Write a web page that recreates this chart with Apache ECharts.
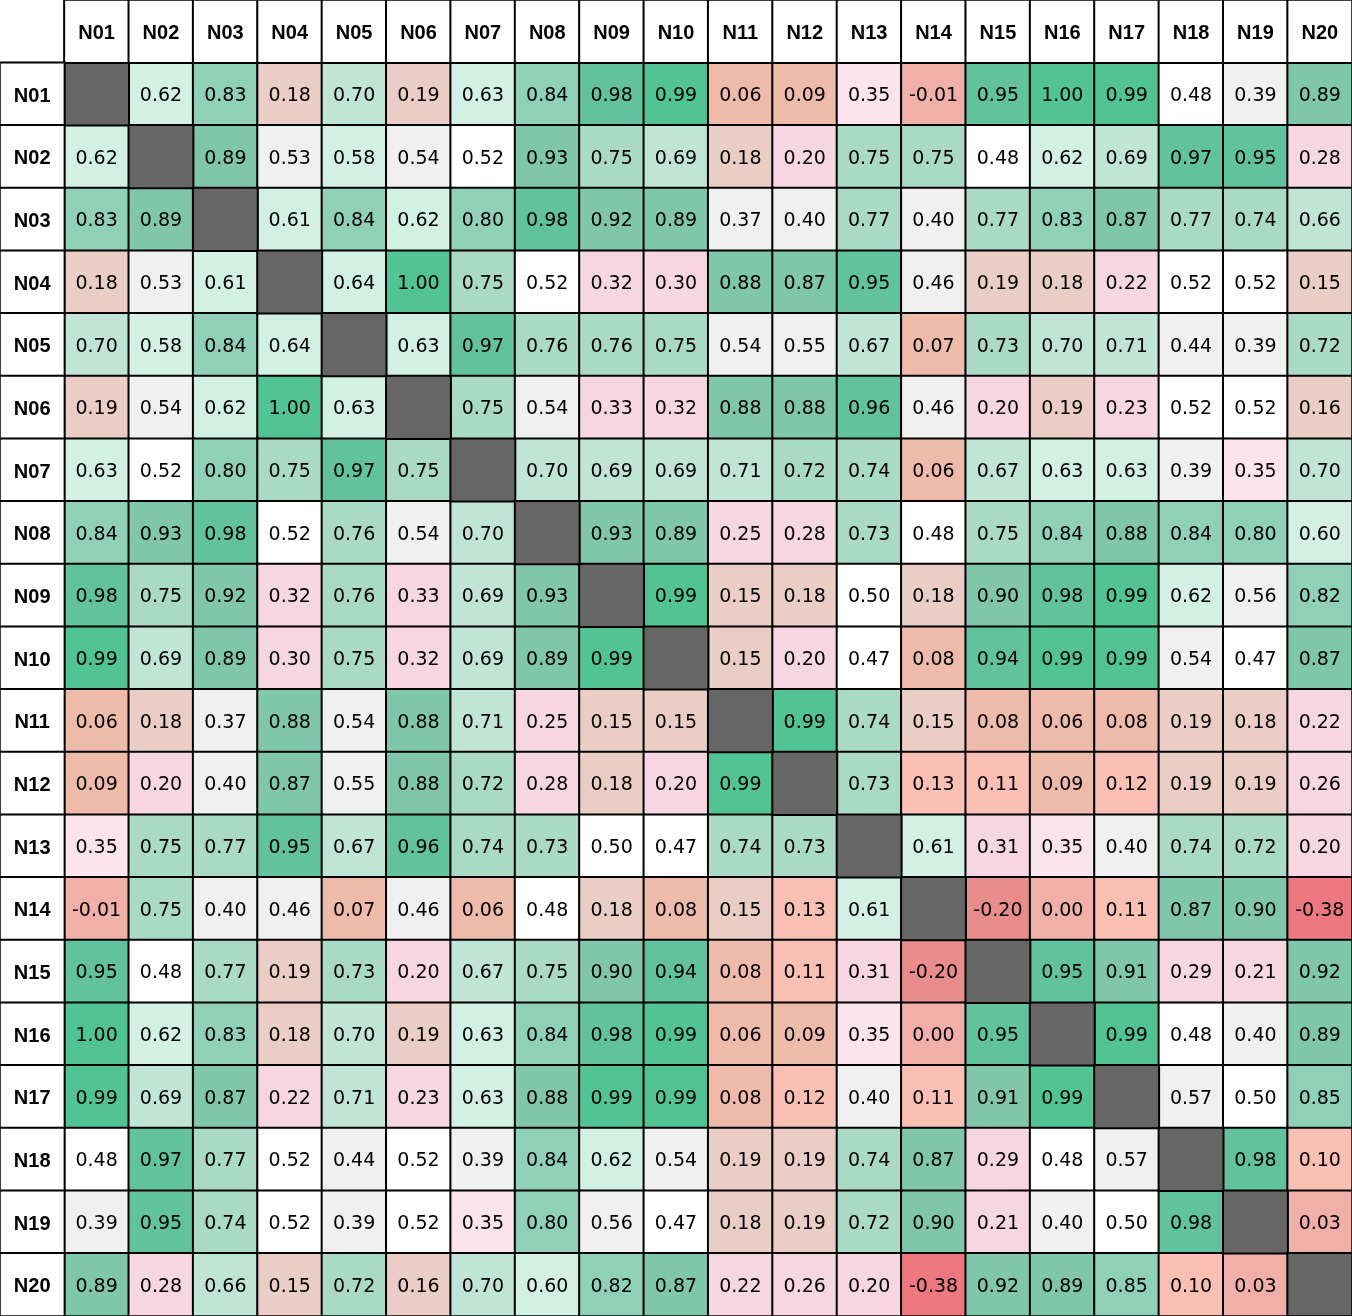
<!DOCTYPE html>
<html lang="en">
<head>
    <meta charset="UTF-8">
    <script type="text/javascript" src="https://cdn.jsdelivr.net/npm/echarts@6.0.0/dist/echarts.min.js"></script>
    <style>
        html, body {
            margin: 0;
            overflow: hidden;
            background: #fff;
        }
        #viewport {
            position: absolute;
            left: 0px;
            top: 0px;
            width: 1352px;
            height: 1316px;
        }
    </style>
</head>
<body>
<div id="viewport"></div>
<script>
    var names = ['N01', 'N02', 'N03', 'N04', 'N05', 'N06', 'N07', 'N08', 'N09', 'N10',
        'N11', 'N12', 'N13', 'N14', 'N15', 'N16', 'N17', 'N18', 'N19', 'N20'];

    // correlation rows, null on the diagonal
    var rowN01 = [null, 0.62, 0.83, 0.18, 0.70, 0.19, 0.63, 0.84, 0.98, 0.99, 0.06, 0.09, 0.35, -0.01, 0.95, 1.00, 0.99, 0.48, 0.39, 0.89];
    var rowN02 = [0.62, null, 0.89, 0.53, 0.58, 0.54, 0.52, 0.93, 0.75, 0.69, 0.18, 0.20, 0.75, 0.75, 0.48, 0.62, 0.69, 0.97, 0.95, 0.28];
    var rowN03 = [0.83, 0.89, null, 0.61, 0.84, 0.62, 0.80, 0.98, 0.92, 0.89, 0.37, 0.40, 0.77, 0.40, 0.77, 0.83, 0.87, 0.77, 0.74, 0.66];
    var rowN04 = [0.18, 0.53, 0.61, null, 0.64, 1.00, 0.75, 0.52, 0.32, 0.30, 0.88, 0.87, 0.95, 0.46, 0.19, 0.18, 0.22, 0.52, 0.52, 0.15];
    var rowN05 = [0.70, 0.58, 0.84, 0.64, null, 0.63, 0.97, 0.76, 0.76, 0.75, 0.54, 0.55, 0.67, 0.07, 0.73, 0.70, 0.71, 0.44, 0.39, 0.72];
    var rowN06 = [0.19, 0.54, 0.62, 1.00, 0.63, null, 0.75, 0.54, 0.33, 0.32, 0.88, 0.88, 0.96, 0.46, 0.20, 0.19, 0.23, 0.52, 0.52, 0.16];
    var rowN07 = [0.63, 0.52, 0.80, 0.75, 0.97, 0.75, null, 0.70, 0.69, 0.69, 0.71, 0.72, 0.74, 0.06, 0.67, 0.63, 0.63, 0.39, 0.35, 0.70];
    var rowN08 = [0.84, 0.93, 0.98, 0.52, 0.76, 0.54, 0.70, null, 0.93, 0.89, 0.25, 0.28, 0.73, 0.48, 0.75, 0.84, 0.88, 0.84, 0.80, 0.60];
    var rowN09 = [0.98, 0.75, 0.92, 0.32, 0.76, 0.33, 0.69, 0.93, null, 0.99, 0.15, 0.18, 0.50, 0.18, 0.90, 0.98, 0.99, 0.62, 0.56, 0.82];
    var rowN10 = [0.99, 0.69, 0.89, 0.30, 0.75, 0.32, 0.69, 0.89, 0.99, null, 0.15, 0.20, 0.47, 0.08, 0.94, 0.99, 0.99, 0.54, 0.47, 0.87];
    var rowN11 = [0.06, 0.18, 0.37, 0.88, 0.54, 0.88, 0.71, 0.25, 0.15, 0.15, null, 0.99, 0.74, 0.15, 0.08, 0.06, 0.08, 0.19, 0.18, 0.22];
    var rowN12 = [0.09, 0.20, 0.40, 0.87, 0.55, 0.88, 0.72, 0.28, 0.18, 0.20, 0.99, null, 0.73, 0.13, 0.11, 0.09, 0.12, 0.19, 0.19, 0.26];
    var rowN13 = [0.35, 0.75, 0.77, 0.95, 0.67, 0.96, 0.74, 0.73, 0.50, 0.47, 0.74, 0.73, null, 0.61, 0.31, 0.35, 0.40, 0.74, 0.72, 0.20];
    var rowN14 = [-0.01, 0.75, 0.40, 0.46, 0.07, 0.46, 0.06, 0.48, 0.18, 0.08, 0.15, 0.13, 0.61, null, -0.20, 0.00, 0.11, 0.87, 0.90, -0.38];
    var rowN15 = [0.95, 0.48, 0.77, 0.19, 0.73, 0.20, 0.67, 0.75, 0.90, 0.94, 0.08, 0.11, 0.31, -0.20, null, 0.95, 0.91, 0.29, 0.21, 0.92];
    var rowN16 = [1.00, 0.62, 0.83, 0.18, 0.70, 0.19, 0.63, 0.84, 0.98, 0.99, 0.06, 0.09, 0.35, 0.00, 0.95, null, 0.99, 0.48, 0.40, 0.89];
    var rowN17 = [0.99, 0.69, 0.87, 0.22, 0.71, 0.23, 0.63, 0.88, 0.99, 0.99, 0.08, 0.12, 0.40, 0.11, 0.91, 0.99, null, 0.57, 0.50, 0.85];
    var rowN18 = [0.48, 0.97, 0.77, 0.52, 0.44, 0.52, 0.39, 0.84, 0.62, 0.54, 0.19, 0.19, 0.74, 0.87, 0.29, 0.48, 0.57, null, 0.98, 0.10];
    var rowN19 = [0.39, 0.95, 0.74, 0.52, 0.39, 0.52, 0.35, 0.80, 0.56, 0.47, 0.18, 0.19, 0.72, 0.90, 0.21, 0.40, 0.50, 0.98, null, 0.03];
    var rowN20 = [0.89, 0.28, 0.66, 0.15, 0.72, 0.16, 0.70, 0.60, 0.82, 0.87, 0.22, 0.26, 0.20, -0.38, 0.92, 0.89, 0.85, 0.10, 0.03, null];

    var rows = [rowN01, rowN02, rowN03, rowN04, rowN05, rowN06, rowN07, rowN08, rowN09, rowN10,
        rowN11, rowN12, rowN13, rowN14, rowN15, rowN16, rowN17, rowN18, rowN19, rowN20];

    // axis slots: first slot is the header row / column
    var slots = [''].concat(names);

    var cells = [];
    var diag = [];
    rows.forEach(function (row, i) {
        row.forEach(function (v, j) {
            if (v === null) {
                diag.push([j + 1, i + 1, 0]);
            } else {
                cells.push([j + 1, i + 1, v]);
            }
        });
    });

    var headers = [];
    names.forEach(function (n, k) {
        headers.push({ name: n, value: [k + 1, 0, 0] });
        headers.push({ name: n, value: [0, k + 1, 0] });
    });

    var border = { borderColor: '#000', borderWidth: 2 };

    var myChart = echarts.init(document.getElementById('viewport'));
    var option = {
        animation: false,
        backgroundColor: '#fff',
        grid: { left: 0, right: 0, top: 0, bottom: 0 },
        xAxis: {
            type: 'category', data: slots, show: false,
            splitArea: { show: false }
        },
        yAxis: {
            type: 'category', data: slots, show: false, inverse: true,
            splitArea: { show: false }
        },
        visualMap: {
            type: 'piecewise',
            show: false,
            seriesIndex: 0,
            pieces: [
                { lt: -0.3, color: '#ee7880' },
                { gte: -0.3, lt: -0.1, color: '#e88c8c' },
                { gte: -0.1, lt: 0.05, color: '#f0b0a8' },
                { gte: 0.05, lt: 0.10, color: '#eebaaa' },
                { gte: 0.10, lt: 0.15, color: '#fac0b4' },
                { gte: 0.15, lt: 0.20, color: '#eacdc4' },
                { gte: 0.20, lt: 0.34, color: '#f6d6e0' },
                { gte: 0.34, lt: 0.37, color: '#fce4ec' },
                { gte: 0.37, lt: 0.47, color: '#f0f0f0' },
                { gte: 0.47, lt: 0.525, color: '#ffffff' },
                { gte: 0.525, lt: 0.58, color: '#f0f0f0' },
                { gte: 0.58, lt: 0.66, color: '#d2f0e4' },
                { gte: 0.66, lt: 0.72, color: '#c0e4d6' },
                { gte: 0.72, lt: 0.78, color: '#aad9c6' },
                { gte: 0.78, lt: 0.86, color: '#90d0b8' },
                { gte: 0.86, lt: 0.94, color: '#80c6aa' },
                { gte: 0.94, lt: 0.985, color: '#62c29e' },
                { gte: 0.985, color: '#52c392' }
            ]
        },
        series: [
            {
                type: 'heatmap',
                data: cells,
                itemStyle: border,
                label: {
                    show: true,
                    fontFamily: 'DejaVu Sans',
                    fontSize: 19,
                    color: '#000',
                    offset: [0, 2],
                    formatter: function (p) { return p.value[2].toFixed(2); }
                },
                emphasis: { disabled: true }
            },
            {
                type: 'heatmap',
                data: diag,
                itemStyle: { color: '#666666', borderColor: '#000', borderWidth: 2 },
                emphasis: { disabled: true }
            },
            {
                type: 'heatmap',
                data: headers,
                itemStyle: { color: '#ffffff', borderColor: '#000', borderWidth: 2 },
                label: {
                    show: true,
                    fontFamily: 'Liberation Sans',
                    fontWeight: 'bold',
                    fontSize: 20,
                    color: '#000',
                    offset: [0, 2],
                    formatter: function (p) { return p.name; }
                },
                emphasis: { disabled: true }
            }
        ]
    };
    myChart.setOption(option);
</script>
</body>
</html>
